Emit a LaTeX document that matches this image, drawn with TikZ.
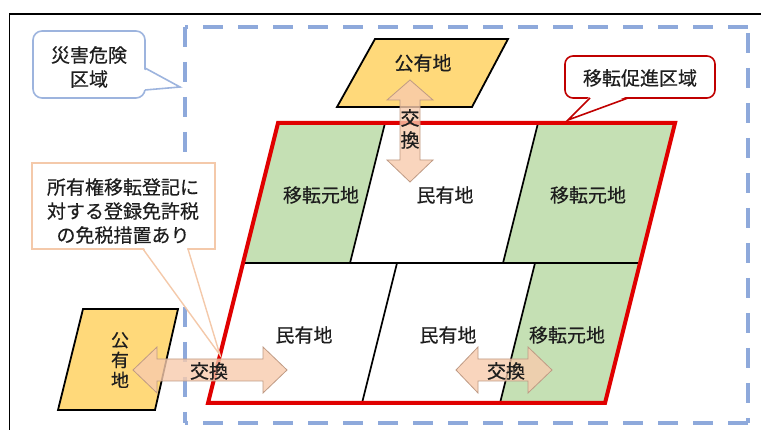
\documentclass[tikz,border=0pt]{standalone}
\usepackage{fontspec}
\setmainfont{Noto Sans CJK JP}[FakeBold=0.4]
\definecolor{zoneblue}{HTML}{8EA9DB}
\definecolor{redline}{HTML}{E00000}
\definecolor{landgreen}{HTML}{C5E0B4}
\definecolor{landyellow}{HTML}{FFD97A}
\definecolor{arrowfill}{HTML}{F8CBAD}
\definecolor{arrowedge}{HTML}{BF9A84}
\definecolor{notebeige}{HTML}{F4C9AA}
\definecolor{noteblue}{HTML}{9DB4DE}
\definecolor{calloutred}{HTML}{C00000}
\definecolor{ink}{HTML}{1E1E1E}
\begin{document}
\begin{tikzpicture}[x=1pt,y=-1pt,
  lbl/.style={font=\fontsize{19}{24}\selectfont, text=ink, inner sep=0pt, align=center},
  vlbl/.style={font=\fontsize{18}{20}\selectfont, text=ink, inner sep=0pt, align=center},
  zoneline/.style={draw=zoneblue, line width=4pt, dash pattern=on 20pt off 15pt},
  divider/.style={draw=black, line width=1.7pt},
  parcel/.style={draw=black, line width=1.8pt, fill=landyellow, line join=miter},
  xarrow/.style={draw=arrowedge, line width=0.8pt, fill=arrowfill, fill opacity=0.8},
  bluenote/.style={draw=noteblue, line width=1.6pt, fill=white},
  beigenote/.style={draw=notebeige, line width=1.4pt, fill=white},
  rednote/.style={draw=calloutred, line width=1.6pt, fill=white}]
\useasboundingbox (0,0) rectangle (761,430);
% outer frame (cut off at right and bottom)
\begin{scope}
\clip (0,0) rectangle (761,430);
\draw[line width=1.8pt] (9.5,14) rectangle (800,470);
\end{scope}
% disaster hazard zone
\coordinate (zA) at (185,27);
\coordinate (zB) at (748,27);
\coordinate (zC) at (748,423);
\coordinate (zD) at (185,423);
\draw[zoneline, dash phase=-18pt] (zA) -- (zB);
\draw[zoneline, dash phase=-6pt] (zB) -- (zC);
\draw[zoneline] (zC) -- (zD);
\draw[zoneline] (zA) -- (zD);
% parcel coordinates
\coordinate (TL) at (278,123);
\coordinate (TR) at (675,123);
\coordinate (BL) at (208,403);
\coordinate (BR) at (605,403);
\coordinate (ML) at (243,263);
\coordinate (MR) at (640,263);
\coordinate (d1t) at (385,123); \coordinate (d1b) at (350,263);
\coordinate (d2t) at (538,123); \coordinate (d2b) at (503,263);
\coordinate (d3t) at (397,263); \coordinate (d3b) at (362,403);
\coordinate (d4t) at (535,263); \coordinate (d4b) at (500,403);
% cells
\fill[landgreen] (TL) -- (d1t) -- (d1b) -- (ML) -- cycle;
\fill[white] (d1t) -- (d2t) -- (d2b) -- (d1b) -- cycle;
\fill[landgreen] (d2t) -- (TR) -- (MR) -- (d2b) -- cycle;
\fill[white] (ML) -- (d3t) -- (d3b) -- (BL) -- cycle;
\fill[white] (d3t) -- (d4t) -- (d4b) -- (d3b) -- cycle;
\fill[landgreen] (d4t) -- (MR) -- (BR) -- (d4b) -- cycle;
\draw[divider] (d1t) -- (d1b);
\draw[divider] (d2t) -- (d2b);
\draw[divider] (ML) -- (MR);
\draw[divider] (d3t) -- (d3b);
\draw[divider] (d4t) -- (d4b);
% relocation promotion zone outline
\draw[draw=redline, line width=4pt, line join=miter] (TL) -- (TR) -- (BR) -- (BL) -- cycle;
% cell labels
\node[lbl] (c1) at (321,195) {移転元地};
\node[lbl] (c2) at (445,195) {民有地};
\node[lbl] (c3) at (588,195) {移転元地};
\node[lbl] (c4) at (304,335) {民有地};
\node[lbl] (c5) at (448,335) {民有地};
\node[lbl] (c6) at (567,335) {移転元地};
% public land parcels
\draw[parcel] (375,39) -- (508,39) -- (472,107) -- (337,107) -- cycle;
\node[lbl] (pub1) at (423,63) {公有地};
\draw[parcel] (83,309) -- (178,309) -- (155,410) -- (58,410) -- cycle;
\node[vlbl] (pub2) at (120,360) {公\\有\\地};
% exchange arrows
\draw[xarrow] (410,80) -- (433,100) -- (420,100) -- (420,160) -- (433,160) -- (410,182)
  -- (387,160) -- (400,160) -- (400,100) -- (387,100) -- cycle;
\node[lbl, font=\fontsize{19}{22}\selectfont] (ex1) at (410,129) {交\\換};
\draw[xarrow] (133,370) -- (157,347) -- (157,359) -- (263,359) -- (263,347) -- (287,370)
  -- (263,393) -- (263,381) -- (157,381) -- (157,393) -- cycle;
\node[lbl] (ex2) at (209,371) {交換};
\draw[xarrow] (456,370) -- (478,347) -- (478,359) -- (528,359) -- (528,347) -- (552,370)
  -- (528,393) -- (528,381) -- (478,381) -- (478,393) -- cycle;
\node[lbl] (ex3) at (506,371) {交換};
% callout: disaster hazard area
\draw[bluenote, rounded corners=9pt] (33,31) rectangle (145,98);
\fill[white] (143,69) -- (180,87) -- (143,90) -- cycle;
\coordinate (bt) at (180,87);
\draw[noteblue, line width=1.6pt, line join=miter] (145,68) -- (bt) -- (145,90);
\node[lbl] (hazard) at (89,67) {災害危険\\区域};
% callout: tax exemption
\draw[beigenote] (32,163) rectangle (215,249);
\fill[white] (144,248) -- (220,355) -- (187,248) -- cycle;
\coordinate (tt) at (220,355);
\draw[notebeige, line width=1.4pt] (143,249) -- (tt) -- (188,249);
\node[lbl] (tax) at (123,211) {所有権移転登記に\\対する登録免許税\\の免税措置あり};
% callout: relocation promotion zone
\draw[rednote, rounded corners=8pt] (565,56) rectangle (715,98);
\fill[white] (590,96) -- (568,120) -- (628,96) -- cycle;
\coordinate (rt) at (568,120);
\draw[calloutred, line width=1.6pt] (590,98) -- (rt) -- (628,98);
\node[lbl] (promo) at (640,78) {移転促進区域};
\end{tikzpicture}
\end{document}
